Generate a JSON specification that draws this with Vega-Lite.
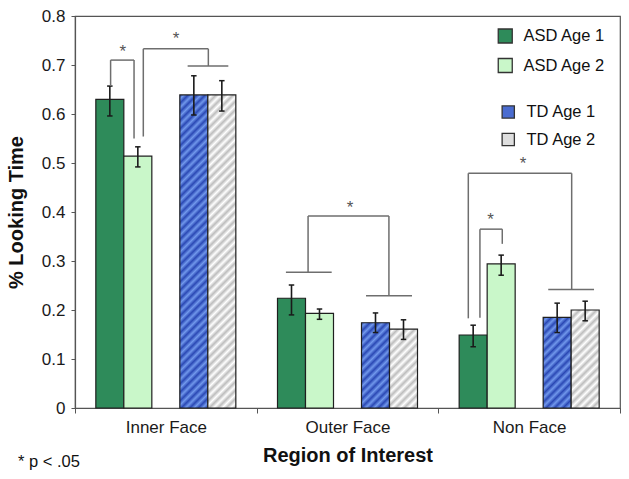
{
  "$schema": "https://vega.github.io/schema/vega-lite/v6.json",
  "width": 545,
  "height": 392,
  "autosize": {"type": "none"},
  "padding": {"left": 75, "top": 16, "right": 9, "bottom": 71},
  "background": "white",
  "config": {
    "font": "Liberation Sans",
    "view": {"stroke": "#555555", "strokeWidth": 1.2},
    "axis": {"domainColor": "#555555", "tickColor": "#555555", "labelColor": "#1a1a1a", "titleColor": "#111111", "grid": false, "labelFont": "Liberation Sans", "titleFont": "Liberation Sans"}
  },
  "params": [
    {"name": "blueStops", "value": [
      {"offset":0,"color":"#2a48b4"},{"offset":0.0125,"color":"#7198ec"},{"offset":0.025,"color":"#2a48b4"},{"offset":0.0375,"color":"#7198ec"},{"offset":0.05,"color":"#2a48b4"},{"offset":0.0625,"color":"#7198ec"},{"offset":0.075,"color":"#2a48b4"},{"offset":0.0875,"color":"#7198ec"},{"offset":0.1,"color":"#2a48b4"},{"offset":0.1125,"color":"#7198ec"},
      {"offset":0.125,"color":"#2a48b4"},{"offset":0.1375,"color":"#7198ec"},{"offset":0.15,"color":"#2a48b4"},{"offset":0.1625,"color":"#7198ec"},{"offset":0.175,"color":"#2a48b4"},{"offset":0.1875,"color":"#7198ec"},{"offset":0.2,"color":"#2a48b4"},{"offset":0.2125,"color":"#7198ec"},{"offset":0.225,"color":"#2a48b4"},{"offset":0.2375,"color":"#7198ec"},
      {"offset":0.25,"color":"#2a48b4"},{"offset":0.2625,"color":"#7198ec"},{"offset":0.275,"color":"#2a48b4"},{"offset":0.2875,"color":"#7198ec"},{"offset":0.3,"color":"#2a48b4"},{"offset":0.3125,"color":"#7198ec"},{"offset":0.325,"color":"#2a48b4"},{"offset":0.3375,"color":"#7198ec"},{"offset":0.35,"color":"#2a48b4"},{"offset":0.3625,"color":"#7198ec"},
      {"offset":0.375,"color":"#2a48b4"},{"offset":0.3875,"color":"#7198ec"},{"offset":0.4,"color":"#2a48b4"},{"offset":0.4125,"color":"#7198ec"},{"offset":0.425,"color":"#2a48b4"},{"offset":0.4375,"color":"#7198ec"},{"offset":0.45,"color":"#2a48b4"},{"offset":0.4625,"color":"#7198ec"},{"offset":0.475,"color":"#2a48b4"},{"offset":0.4875,"color":"#7198ec"},
      {"offset":0.5,"color":"#2a48b4"},{"offset":0.5125,"color":"#7198ec"},{"offset":0.525,"color":"#2a48b4"},{"offset":0.5375,"color":"#7198ec"},{"offset":0.55,"color":"#2a48b4"},{"offset":0.5625,"color":"#7198ec"},{"offset":0.575,"color":"#2a48b4"},{"offset":0.5875,"color":"#7198ec"},{"offset":0.6,"color":"#2a48b4"},{"offset":0.6125,"color":"#7198ec"},
      {"offset":0.625,"color":"#2a48b4"},{"offset":0.6375,"color":"#7198ec"},{"offset":0.65,"color":"#2a48b4"},{"offset":0.6625,"color":"#7198ec"},{"offset":0.675,"color":"#2a48b4"},{"offset":0.6875,"color":"#7198ec"},{"offset":0.7,"color":"#2a48b4"},{"offset":0.7125,"color":"#7198ec"},{"offset":0.725,"color":"#2a48b4"},{"offset":0.7375,"color":"#7198ec"},
      {"offset":0.75,"color":"#2a48b4"},{"offset":0.7625,"color":"#7198ec"},{"offset":0.775,"color":"#2a48b4"},{"offset":0.7875,"color":"#7198ec"},{"offset":0.8,"color":"#2a48b4"},{"offset":0.8125,"color":"#7198ec"},{"offset":0.825,"color":"#2a48b4"},{"offset":0.8375,"color":"#7198ec"},{"offset":0.85,"color":"#2a48b4"},{"offset":0.8625,"color":"#7198ec"},
      {"offset":0.875,"color":"#2a48b4"},{"offset":0.8875,"color":"#7198ec"},{"offset":0.9,"color":"#2a48b4"},{"offset":0.9125,"color":"#7198ec"},{"offset":0.925,"color":"#2a48b4"},{"offset":0.9375,"color":"#7198ec"},{"offset":0.95,"color":"#2a48b4"},{"offset":0.9625,"color":"#7198ec"},{"offset":0.975,"color":"#2a48b4"},{"offset":0.9875,"color":"#7198ec"},
      {"offset":1,"color":"#2a48b4"}
    ]},
    {"name": "grayStops", "value": [
      {"offset":0,"color":"#bdbdbd"},{"offset":0.0125,"color":"#ffffff"},{"offset":0.025,"color":"#bdbdbd"},{"offset":0.0375,"color":"#ffffff"},{"offset":0.05,"color":"#bdbdbd"},{"offset":0.0625,"color":"#ffffff"},{"offset":0.075,"color":"#bdbdbd"},{"offset":0.0875,"color":"#ffffff"},{"offset":0.1,"color":"#bdbdbd"},{"offset":0.1125,"color":"#ffffff"},
      {"offset":0.125,"color":"#bdbdbd"},{"offset":0.1375,"color":"#ffffff"},{"offset":0.15,"color":"#bdbdbd"},{"offset":0.1625,"color":"#ffffff"},{"offset":0.175,"color":"#bdbdbd"},{"offset":0.1875,"color":"#ffffff"},{"offset":0.2,"color":"#bdbdbd"},{"offset":0.2125,"color":"#ffffff"},{"offset":0.225,"color":"#bdbdbd"},{"offset":0.2375,"color":"#ffffff"},
      {"offset":0.25,"color":"#bdbdbd"},{"offset":0.2625,"color":"#ffffff"},{"offset":0.275,"color":"#bdbdbd"},{"offset":0.2875,"color":"#ffffff"},{"offset":0.3,"color":"#bdbdbd"},{"offset":0.3125,"color":"#ffffff"},{"offset":0.325,"color":"#bdbdbd"},{"offset":0.3375,"color":"#ffffff"},{"offset":0.35,"color":"#bdbdbd"},{"offset":0.3625,"color":"#ffffff"},
      {"offset":0.375,"color":"#bdbdbd"},{"offset":0.3875,"color":"#ffffff"},{"offset":0.4,"color":"#bdbdbd"},{"offset":0.4125,"color":"#ffffff"},{"offset":0.425,"color":"#bdbdbd"},{"offset":0.4375,"color":"#ffffff"},{"offset":0.45,"color":"#bdbdbd"},{"offset":0.4625,"color":"#ffffff"},{"offset":0.475,"color":"#bdbdbd"},{"offset":0.4875,"color":"#ffffff"},
      {"offset":0.5,"color":"#bdbdbd"},{"offset":0.5125,"color":"#ffffff"},{"offset":0.525,"color":"#bdbdbd"},{"offset":0.5375,"color":"#ffffff"},{"offset":0.55,"color":"#bdbdbd"},{"offset":0.5625,"color":"#ffffff"},{"offset":0.575,"color":"#bdbdbd"},{"offset":0.5875,"color":"#ffffff"},{"offset":0.6,"color":"#bdbdbd"},{"offset":0.6125,"color":"#ffffff"},
      {"offset":0.625,"color":"#bdbdbd"},{"offset":0.6375,"color":"#ffffff"},{"offset":0.65,"color":"#bdbdbd"},{"offset":0.6625,"color":"#ffffff"},{"offset":0.675,"color":"#bdbdbd"},{"offset":0.6875,"color":"#ffffff"},{"offset":0.7,"color":"#bdbdbd"},{"offset":0.7125,"color":"#ffffff"},{"offset":0.725,"color":"#bdbdbd"},{"offset":0.7375,"color":"#ffffff"},
      {"offset":0.75,"color":"#bdbdbd"},{"offset":0.7625,"color":"#ffffff"},{"offset":0.775,"color":"#bdbdbd"},{"offset":0.7875,"color":"#ffffff"},{"offset":0.8,"color":"#bdbdbd"},{"offset":0.8125,"color":"#ffffff"},{"offset":0.825,"color":"#bdbdbd"},{"offset":0.8375,"color":"#ffffff"},{"offset":0.85,"color":"#bdbdbd"},{"offset":0.8625,"color":"#ffffff"},
      {"offset":0.875,"color":"#bdbdbd"},{"offset":0.8875,"color":"#ffffff"},{"offset":0.9,"color":"#bdbdbd"},{"offset":0.9125,"color":"#ffffff"},{"offset":0.925,"color":"#bdbdbd"},{"offset":0.9375,"color":"#ffffff"},{"offset":0.95,"color":"#bdbdbd"},{"offset":0.9625,"color":"#ffffff"},{"offset":0.975,"color":"#bdbdbd"},{"offset":0.9875,"color":"#ffffff"},
      {"offset":1,"color":"#bdbdbd"}
    ]},
    {"name": "blueSq", "value": {"gradient": "linear", "x1": 0, "y1": 0, "x2": 1, "y2": 1, "stops": [{"offset": 0, "color": "#2a48b4"}, {"offset": 0.152, "color": "#7198ec"}, {"offset": 0.304, "color": "#2a48b4"}, {"offset": 0.455, "color": "#7198ec"}, {"offset": 0.607, "color": "#2a48b4"}, {"offset": 0.759, "color": "#7198ec"}, {"offset": 0.911, "color": "#2a48b4"}, {"offset": 1, "color": "#5078d8"}]}},
    {"name": "graySq", "value": {"gradient": "linear", "x1": 0, "y1": 0, "x2": 1, "y2": 1, "stops": [{"offset": 0, "color": "#bdbdbd"}, {"offset": 0.152, "color": "#ffffff"}, {"offset": 0.304, "color": "#bdbdbd"}, {"offset": 0.455, "color": "#ffffff"}, {"offset": 0.607, "color": "#bdbdbd"}, {"offset": 0.759, "color": "#ffffff"}, {"offset": 0.911, "color": "#bdbdbd"}, {"offset": 1, "color": "#dddddd"}]}}
  ],
  "title": {"text": "* p < .05", "orient": "bottom", "anchor": "start", "frame": "group", "offset": -11, "dx": -57, "fontSize": 16.5, "fontWeight": "normal", "color": "#111111", "font": "Liberation Sans"},
  "datasets": {
    "bars": [
      {"region": "Inner Face", "group": "ASD Age 1", "value": 0.630, "lo": 0.596, "hi": 0.657},
      {"region": "Inner Face", "group": "ASD Age 2", "value": 0.514, "lo": 0.492, "hi": 0.533},
      {"region": "Inner Face", "group": "TD Age 1", "value": 0.639, "lo": 0.598, "hi": 0.678},
      {"region": "Inner Face", "group": "TD Age 2", "value": 0.639, "lo": 0.606, "hi": 0.668},
      {"region": "Outer Face", "group": "ASD Age 1", "value": 0.224, "lo": 0.190, "hi": 0.251},
      {"region": "Outer Face", "group": "ASD Age 2", "value": 0.193, "lo": 0.181, "hi": 0.202},
      {"region": "Outer Face", "group": "TD Age 1", "value": 0.174, "lo": 0.154, "hi": 0.194},
      {"region": "Outer Face", "group": "TD Age 2", "value": 0.161, "lo": 0.140, "hi": 0.180},
      {"region": "Non Face", "group": "ASD Age 1", "value": 0.149, "lo": 0.125, "hi": 0.169},
      {"region": "Non Face", "group": "ASD Age 2", "value": 0.294, "lo": 0.271, "hi": 0.312},
      {"region": "Non Face", "group": "TD Age 1", "value": 0.185, "lo": 0.154, "hi": 0.214},
      {"region": "Non Face", "group": "TD Age 2", "value": 0.200, "lo": 0.178, "hi": 0.218}
    ],
    "brackets": [
      {"x": 0.196, "x2": 0.196, "y": 0.657, "y2": 0.710},
      {"x": 0.196, "x2": 0.325, "y": 0.710, "y2": 0.710},
      {"x": 0.325, "x2": 0.325, "y": 0.550, "y2": 0.710},
      {"x": 0.376, "x2": 0.376, "y": 0.554, "y2": 0.733},
      {"x": 0.376, "x2": 0.734, "y": 0.733, "y2": 0.733},
      {"x": 0.734, "x2": 0.734, "y": 0.698, "y2": 0.733},
      {"x": 0.620, "x2": 0.844, "y": 0.698, "y2": 0.698},
      {"x": 1.283, "x2": 1.728, "y": 0.392, "y2": 0.392},
      {"x": 1.283, "x2": 1.283, "y": 0.277, "y2": 0.392},
      {"x": 1.728, "x2": 1.728, "y": 0.229, "y2": 0.392},
      {"x": 1.161, "x2": 1.413, "y": 0.277, "y2": 0.277},
      {"x": 1.602, "x2": 1.855, "y": 0.229, "y2": 0.229},
      {"x": 2.165, "x2": 2.734, "y": 0.479, "y2": 0.479},
      {"x": 2.165, "x2": 2.165, "y": 0.183, "y2": 0.479},
      {"x": 2.734, "x2": 2.734, "y": 0.242, "y2": 0.479},
      {"x": 2.605, "x2": 2.857, "y": 0.242, "y2": 0.242},
      {"x": 2.229, "x2": 2.352, "y": 0.365, "y2": 0.365},
      {"x": 2.229, "x2": 2.229, "y": 0.184, "y2": 0.365},
      {"x": 2.352, "x2": 2.352, "y": 0.335, "y2": 0.365}
    ],
    "stars": [
      {"x": 0.263, "y": 0.735, "label": "*"},
      {"x": 0.556, "y": 0.761, "label": "*"},
      {"x": 1.514, "y": 0.416, "label": "*"},
      {"x": 2.466, "y": 0.506, "label": "*"},
      {"x": 2.288, "y": 0.392, "label": "*"}
    ]
  },
  "layer": [
    {
      "layer": [
        {
          "data": {"name": "bars"},
          "transform": [{"filter": "indexof(datum.group, 'ASD') === 0"}],
          "mark": {"type": "bar", "stroke": "#1f1f1f", "strokeWidth": 1.2},
          "encoding": {
            "x": {"field": "region", "type": "nominal", "scale": {"domain": ["Inner Face", "Outer Face", "Non Face"], "paddingInner": 0, "paddingOuter": 0},
              "axis": {"title": "Region of Interest", "labelAngle": 0, "tickBand": "extent", "tickSize": 5, "labelFontSize": 17, "labelPadding": 6, "titleFontSize": 20, "titleFontWeight": "bold", "titlePadding": 10, "domainWidth": 1.2}},
            "xOffset": {"field": "group", "type": "nominal", "scale": {"domain": ["ASD Age 1", "ASD Age 2", "gap", "TD Age 1", "TD Age 2"], "paddingInner": 0, "paddingOuter": 0.744}},
            "y": {"field": "value", "type": "quantitative", "scale": {"domain": [0, 0.8], "nice": false},
              "axis": {"title": "% Looking Time", "values": [0, 0.1, 0.2, 0.3, 0.4, 0.5, 0.6, 0.7, 0.8], "labelExpr": "datum.value === 0 ? '0' : format(datum.value, '.1f')", "tickSize": 4, "labelPadding": 6, "labelFontSize": 17, "titleFontSize": 20, "titleFontWeight": "bold", "titlePadding": 15, "domainWidth": 1.2}},
            "fill": {"field": "group", "type": "nominal", "scale": {"domain": ["ASD Age 1", "ASD Age 2"], "range": ["#2e8b5a", "#c9f7c9"]},
              "legend": {"title": null, "orient": "none", "legendX": 422, "legendY": 11.75, "symbolType": "square", "symbolSize": 196, "symbolStrokeColor": "#333333", "symbolStrokeWidth": 1.3, "labelFontSize": 16.5, "labelColor": "#111111", "labelOffset": 10, "rowPadding": 9.5, "padding": 0, "labelFont": "Liberation Sans"}}
          }
        },
        {
          "data": {"name": "bars"},
          "transform": [{"filter": "indexof(datum.group, 'TD') === 0"}],
          "mark": {"type": "bar"},
          "encoding": {
            "x": {"field": "region", "type": "nominal", "scale": {"domain": ["Inner Face", "Outer Face", "Non Face"], "paddingInner": 0, "paddingOuter": 0}},
            "xOffset": {"field": "group", "type": "nominal", "scale": {"domain": ["ASD Age 1", "ASD Age 2", "gap", "TD Age 1", "TD Age 2"], "paddingInner": 0, "paddingOuter": 0.744}},
            "y": {"field": "value", "type": "quantitative", "title": "% Looking Time", "scale": {"domain": [0, 0.8], "nice": false}},
            "fill": {
              "field": "group", "type": "nominal",
              "scale": {"domain": ["TD Age 1", "TD Age 2"], "range": ["#4a6cd0", "#dedede"]},
              "legend": {"title": null, "orient": "none", "legendX": 425, "legendY": 87.75, "symbolType": "square", "symbolSize": 150, "symbolStrokeColor": "#333333", "symbolStrokeWidth": 1.3, "symbolOpacity": 1, "labelFontSize": 16.5, "labelColor": "#111111", "labelOffset": 10, "rowPadding": 9.5, "padding": 0, "labelFont": "Liberation Sans",
                "encode": {"symbols": {"update": {"fill": {"signal": "datum.value === 'TD Age 1' ? blueSq : graySq"}, "stroke": {"value": "#333333"}, "strokeWidth": {"value": 1.3}}}}}
            }
          }
        },
        {
          "data": {"name": "bars"},
          "transform": [{"filter": "indexof(datum.group, 'TD') === 0"}],
          "mark": {"type": "bar", "stroke": "#1f1f1f", "strokeWidth": 1.2},
          "encoding": {
            "x": {"field": "region", "type": "nominal", "scale": {"domain": ["Inner Face", "Outer Face", "Non Face"], "paddingInner": 0, "paddingOuter": 0}},
            "xOffset": {"field": "group", "type": "nominal", "scale": {"domain": ["ASD Age 1", "ASD Age 2", "gap", "TD Age 1", "TD Age 2"], "paddingInner": 0, "paddingOuter": 0.744}},
            "y": {"field": "value", "type": "quantitative", "title": "% Looking Time", "scale": {"domain": [0, 0.8], "nice": false}},
            "fill": {"value": {"expr": "{gradient: 'linear', x1: 0, y1: 0, x2: 9520 / (784 + 240100 * datum.value * datum.value), y2: 166600 * datum.value / (784 + 240100 * datum.value * datum.value), stops: datum.group === 'TD Age 1' ? blueStops : grayStops}"}}
          }
        },
        {
          "data": {"name": "bars"},
          "mark": {"type": "bar", "width": 1.6, "color": "#1a1a1a"},
          "encoding": {
            "x": {"field": "region", "type": "nominal", "scale": {"domain": ["Inner Face", "Outer Face", "Non Face"], "paddingInner": 0, "paddingOuter": 0}},
            "xOffset": {"field": "group", "type": "nominal", "scale": {"domain": ["ASD Age 1", "ASD Age 2", "gap", "TD Age 1", "TD Age 2"], "paddingInner": 0, "paddingOuter": 0.744}},
            "y": {"field": "lo", "type": "quantitative", "title": "% Looking Time", "scale": {"domain": [0, 0.8], "nice": false}},
            "y2": {"field": "hi"}
          }
        },
        {
          "data": {"name": "bars"},
          "transform": [{"fold": ["lo", "hi"], "as": ["end", "ev"]}],
          "mark": {"type": "point", "shape": "M-1,0L1,0", "size": 30, "filled": false, "stroke": "#1a1a1a", "strokeWidth": 1.5, "opacity": 1},
          "encoding": {
            "x": {"field": "region", "type": "nominal", "scale": {"domain": ["Inner Face", "Outer Face", "Non Face"], "paddingInner": 0, "paddingOuter": 0}},
            "xOffset": {"field": "group", "type": "nominal", "scale": {"domain": ["ASD Age 1", "ASD Age 2", "gap", "TD Age 1", "TD Age 2"], "paddingInner": 0, "paddingOuter": 0.744}},
            "y": {"field": "ev", "type": "quantitative", "title": "% Looking Time", "scale": {"domain": [0, 0.8], "nice": false}}
          }
        }
      ],
      "resolve": {"scale": {"fill": "independent"}}
    },
    {
      "data": {"name": "brackets"},
      "mark": {"type": "rule", "color": "#6e6e6e", "strokeWidth": 1.5},
      "encoding": {
        "x": {"field": "x", "type": "quantitative", "scale": {"domain": [0, 3], "nice": false, "zero": false}, "axis": null},
        "x2": {"field": "x2"},
        "y": {"field": "y", "type": "quantitative", "title": "% Looking Time", "scale": {"domain": [0, 0.8], "nice": false}},
        "y2": {"field": "y2"}
      }
    },
    {
      "data": {"name": "stars"},
      "mark": {"type": "text", "fontSize": 17, "color": "#555555", "dy": 4, "font": "Liberation Sans"},
      "encoding": {
        "x": {"field": "x", "type": "quantitative", "scale": {"domain": [0, 3], "nice": false, "zero": false}, "axis": null},
        "y": {"field": "y", "type": "quantitative", "title": "% Looking Time", "scale": {"domain": [0, 0.8], "nice": false}},
        "text": {"field": "label"}
      }
    }
  ],
  "resolve": {"scale": {"x": "independent"}}
}
